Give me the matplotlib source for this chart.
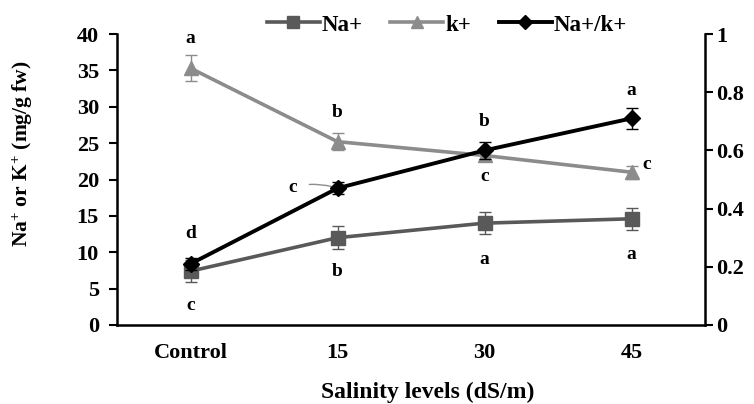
import matplotlib
matplotlib.use("Agg")
import matplotlib.pyplot as plt
import numpy as np
from matplotlib.lines import Line2D

plt.rcParams['font.family'] = ['Liberation Serif', 'DejaVu Serif']
plt.rcParams['font.weight'] = 'bold'
plt.rcParams['mathtext.fontset'] = 'custom'
plt.rcParams['mathtext.rm'] = 'Liberation Serif:bold'
plt.rcParams['mathtext.bf'] = 'Liberation Serif:bold'
plt.rcParams['mathtext.it'] = 'Liberation Serif:bold'

categories = ['Control', '15', '30', '45']
na = [7.4, 12.0, 14.0, 14.6]
na_err = [1.5, 1.6, 1.5, 1.5]
k = [35.3, 25.2, 23.3, 21.0]
k_err = [1.8, 1.2, 0.8, 0.9]
ratio = [0.21, 0.47, 0.60, 0.71]
ratio_err = [0.02, 0.02, 0.03, 0.035]

na_letters = ['c', 'b', 'a', 'a']
k_letters = ['a', 'b', 'c', 'c']
ratio_letters = ['d', 'c', 'b', 'a']

left_ticks = [0, 5, 10, 15, 20, 25, 30, 35, 40]
right_ticks = [0, 0.2, 0.4, 0.6, 0.8, 1]
right_tick_labels = ['0', '0.2', '0.4', '0.6', '0.8', '1']

na_color = '#595959'
k_color = '#8c8c8c'
r_color = '#000000'

fig = plt.figure(figsize=(7.54, 4.04), dpi=100)
ax = fig.add_axes([117/754, 1-325/404, 588/754, 291/404])
ax2 = ax.twinx()

x = np.arange(len(categories))

l_na = ax.errorbar(x, na, yerr=na_err, color=na_color, lw=2.6, marker='s', ms=10,
                   ecolor=na_color, elinewidth=1.0, capsize=4, capthick=1.0, zorder=3)
l_k = ax.errorbar(x, k, yerr=k_err, color=k_color, lw=2.6, marker='^', ms=10,
                  ecolor=k_color, elinewidth=1.0, capsize=4, capthick=1.0, zorder=3)
l_r = ax2.errorbar(x, ratio, yerr=ratio_err, color=r_color, lw=2.8, marker='D', ms=8,
                   ecolor=r_color, elinewidth=1.0, capsize=4, capthick=1.0, zorder=4)

ax.set_xlim(-0.5, 3.5)
ax.set_ylim(0, 40)
ax2.set_ylim(0, 1)
ax.set_xticks(x)
ax.set_xticklabels(categories)
ax.set_yticks(left_ticks)
ax2.set_yticks(right_ticks)
ax2.set_yticklabels(right_tick_labels)

for a in (ax, ax2):
    a.spines['top'].set_visible(False)
    for s in a.spines.values():
        s.set_linewidth(1.8)
ax.spines['right'].set_visible(False)
ax2.spines['left'].set_visible(False)
ax2.spines['bottom'].set_visible(False)

ax.tick_params(axis='y', direction='out', length=6, width=1.5, pad=7, labelsize=16)
ax2.tick_params(axis='y', direction='out', length=6, width=1.5, pad=2, labelsize=16)
ax.tick_params(axis='x', length=0, pad=13, labelsize=16)
for lab in ax.get_xticklabels() + ax.get_yticklabels() + ax2.get_yticklabels():
    lab.set_fontweight('bold')

fig.text(23/754, 1-154/404, 'Na$^{+}$ or K$^{+}$ (mg/g fw)', rotation=90, ha='center', va='center',
         fontsize=15.5, fontweight='bold')
fig.text(428/754, 1-392/404, 'Salinity levels (dS/m)', ha='center', va='center',
         fontsize=17, fontweight='bold')

fs = 14
na_off = [(0, -34), (0, -34), (0, -36), (0, -36)]
for xi, yi, t, off in zip(x, na, na_letters, na_off):
    ax.annotate(t, (xi, yi), xytext=off, textcoords='offset pixels', ha='center', va='center',
                fontsize=fs, fontweight='bold')
k_off = [(0, 30), (0, 29), (0, -21), (15, 8)]
for xi, yi, t, off in zip(x, k, k_letters, k_off):
    ax.annotate(t, (xi, yi), xytext=off, textcoords='offset pixels', ha='center', va='center',
                fontsize=fs, fontweight='bold')
r_off = [(0, 30), (-45, 1), (0, 29), (0, 28)]
for i, (xi, yi, t, off) in enumerate(zip(x, ratio, ratio_letters, r_off)):
    if i == 1:
        ax2.annotate(t, (xi, yi), xytext=off, textcoords='offset pixels', ha='center', va='center',
                     fontsize=fs, fontweight='bold',
                     arrowprops=dict(arrowstyle='-', color='#8c8c8c', lw=1.0,
                                     shrinkA=7, shrinkB=4, connectionstyle='arc3,rad=-0.15'))
    else:
        ax2.annotate(t, (xi, yi), xytext=off, textcoords='offset pixels', ha='center', va='center',
                     fontsize=fs, fontweight='bold')

hl = [Line2D([], [], color=na_color, lw=2.6, marker='s', ms=9),
      Line2D([], [], color=k_color, lw=2.6, marker='^', ms=9),
      Line2D([], [], color=r_color, lw=2.8, marker='D', ms=7)]
fig.legend(hl, ['Na+', 'k+', 'Na+/k+'], loc='center', bbox_to_anchor=(447/754, 1-25/404),
           ncol=3, frameon=False, handlelength=2.3, handletextpad=0.1, columnspacing=1.2,
           prop={'family': 'Liberation Serif', 'weight': 'bold', 'size': 16.5})

fig.savefig('out.png', dpi=100)
